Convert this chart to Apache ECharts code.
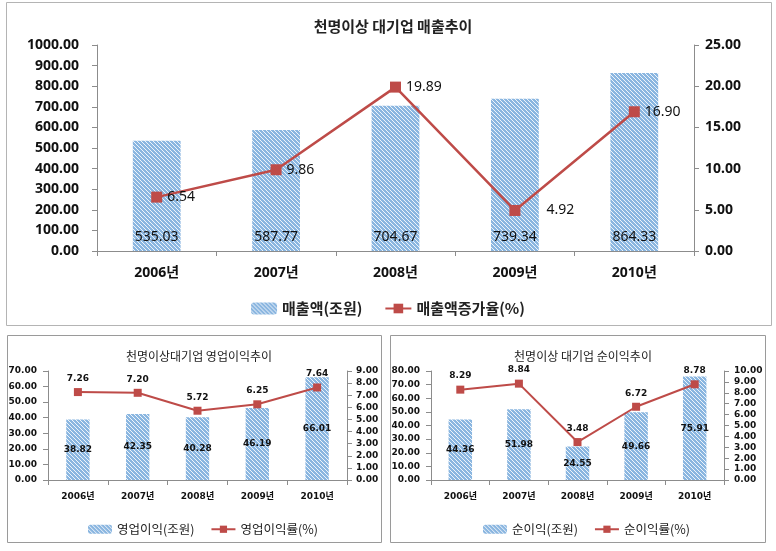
<!DOCTYPE html>
<html><head><meta charset="utf-8">
<script src="https://cdn.jsdelivr.net/npm/echarts@6/dist/echarts.min.js"></script>
<style>html,body{margin:0;padding:0;background:#fff}#c{width:776px;height:551px}</style>
</head><body><div id="c"></div>
<script>
// ---- data ----
const years = ['2006년', '2007년', '2008년', '2009년', '2010년'];

const salesTitle = '천명이상 대기업 매출추이';
const salesName = '매출액(조원)';
const growthName = '매출액증가율(%)';
const sales = [535.03, 587.77, 704.67, 739.34, 864.33];
const salesGrowth = [6.54, 9.86, 19.89, 4.92, 16.90];

const opTitle = '천명이상대기업 영업이익추이';
const opName = '영업이익(조원)';
const opRateName = '영업이익률(%)';
const opProfit = [38.82, 42.35, 40.28, 46.19, 66.01];
const opMargin = [7.26, 7.20, 5.72, 6.25, 7.64];

const netTitle = '천명이상 대기업 순이익추이';
const netName = '순이익(조원)';
const netRateName = '순이익률(%)';
const netProfit = [44.36, 51.98, 24.55, 49.66, 75.91];
const netMargin = [8.29, 8.84, 3.48, 6.72, 8.78];

// ---- styles ----
function hatch() {
  const c = document.createElement('canvas');
  c.width = 4; c.height = 4;
  const g = c.getContext('2d');
  g.fillStyle = '#8ab6e0'; g.fillRect(0, 0, 4, 4);
  g.strokeStyle = 'rgba(255,255,255,0.85)'; g.lineWidth = 1;
  g.beginPath(); g.moveTo(0, 0); g.lineTo(4, 4); g.stroke();
  g.beginPath(); g.moveTo(-2, 2); g.lineTo(2, 6); g.stroke();
  g.beginPath(); g.moveTo(2, -2); g.lineTo(6, 2); g.stroke();
  return c;
}
const barFill = { image: hatch(), repeat: 'repeat' };
const RED = '#be4b48';
const AX = '#8c8c8c';
const fmt = v => Number(v).toFixed(2);
const bigFont = 'Noto Sans, Noto Sans CJK KR, sans-serif';
const smallFont = 'DejaVu Sans, Noto Sans CJK KR, sans-serif';

function xAx(gi, font, size, margin) {
  return {
    type: 'category', gridIndex: gi, data: years,
    axisLine: { lineStyle: { color: AX } },
    axisTick: { show: true, length: 5, lineStyle: { color: AX } },
    axisLabel: { color: '#111', fontFamily: font, fontWeight: 'bold', fontSize: size, margin: margin }
  };
}
function yAx(gi, max, interval, font, size, margin, pos) {
  return {
    type: 'value', gridIndex: gi, min: 0, max: max, interval: interval, position: pos,
    splitLine: { show: false },
    axisLine: { show: true, lineStyle: { color: AX } },
    axisTick: { show: true, length: 5, lineStyle: { color: AX } },
    axisLabel: { color: '#111', fontFamily: font, fontWeight: 'bold', fontSize: size, margin: margin, formatter: fmt }
  };
}

const chart = echarts.init(document.getElementById('c'));
chart.setOption({
  animation: false,
  backgroundColor: '#fff',
  graphic: [
    { type: 'rect', shape: { x: 6.5, y: 2.5, width: 765, height: 323 }, style: { fill: 'none', stroke: '#b4b4b4', lineWidth: 1 }, silent: true },
    { type: 'rect', shape: { x: 7.5, y: 335.5, width: 374, height: 207 }, style: { fill: 'none', stroke: '#9a9a9a', lineWidth: 1 }, silent: true },
    { type: 'rect', shape: { x: 390.5, y: 335.5, width: 375, height: 207 }, style: { fill: 'none', stroke: '#9a9a9a', lineWidth: 1 }, silent: true }
  ],
  title: [
    { text: salesTitle, left: 388, top: 14, textAlign: 'center',
      textStyle: { fontFamily: 'Noto Sans CJK KR', fontSize: 15, fontWeight: 'bold', color: '#222' } },
    { text: opTitle, left: 194, top: 345, textAlign: 'center',
      textStyle: { fontFamily: 'Noto Sans CJK KR', fontSize: 12, fontWeight: 'normal', color: '#222' } },
    { text: netTitle, left: 578, top: 345, textAlign: 'center',
      textStyle: { fontFamily: 'Noto Sans CJK KR', fontSize: 12, fontWeight: 'normal', color: '#222' } }
  ],
  legend: [
    { data: [salesName, growthName], left: 'center', top: 296, itemWidth: 26, itemHeight: 12, itemGap: 22,
      textStyle: { fontFamily: 'Noto Sans CJK KR', fontSize: 15, fontWeight: 'bold', color: '#222' } },
    { data: [opName, opRateName], left: 83, top: 518, itemWidth: 24, itemHeight: 9, itemGap: 16,
      textStyle: { fontFamily: 'Noto Sans CJK KR', fontSize: 12.5, fontWeight: 'normal', color: '#222' } },
    { data: [netName, netRateName], left: 478, top: 518, itemWidth: 24, itemHeight: 9, itemGap: 16,
      textStyle: { fontFamily: 'Noto Sans CJK KR', fontSize: 12.5, fontWeight: 'normal', color: '#222' } }
  ],
  grid: [
    { left: 97, right: 82, top: 45, bottom: 300 },
    { left: 48, right: 429, top: 371, bottom: 71 },
    { left: 431, right: 52, top: 371, bottom: 71 }
  ],
  xAxis: [
    xAx(0, bigFont, 14, 15),
    xAx(1, smallFont, 9, 12),
    xAx(2, smallFont, 9, 12)
  ],
  yAxis: [
    yAx(0, 1000, 100, bigFont, 14, 18, 'left'),
    yAx(0, 25, 5, bigFont, 14, 11, 'right'),
    yAx(1, 70, 10, smallFont, 9, 11, 'left'),
    yAx(1, 9, 1, smallFont, 9, 9, 'right'),
    yAx(2, 80, 10, smallFont, 9, 11, 'left'),
    yAx(2, 10, 1, smallFont, 9, 10, 'right')
  ],
  series: [
    { name: salesName, type: 'bar', xAxisIndex: 0, yAxisIndex: 0, data: sales, barWidth: '40%',
      itemStyle: { color: barFill },
      label: { show: true, position: 'insideBottom', distance: 7, formatter: p => fmt(p.value),
        fontFamily: bigFont, fontSize: 14, color: '#111' } },
    { name: growthName, type: 'line', xAxisIndex: 0, yAxisIndex: 1,
      data: salesGrowth.map((v, i) => i === 3 ? { value: v, label: { distance: 26 } } : v),
      symbol: 'rect', symbolSize: 11, lineStyle: { color: RED, width: 2.5 }, itemStyle: { color: RED },
      label: { show: true, position: 'right', distance: 5, formatter: p => fmt(p.value),
        fontFamily: bigFont, fontSize: 14, color: '#111' } },
    { name: opName, type: 'bar', xAxisIndex: 1, yAxisIndex: 2, data: opProfit, barWidth: '39%',
      itemStyle: { color: barFill },
      label: { show: true, position: 'inside', formatter: p => fmt(p.value),
        fontFamily: smallFont, fontWeight: 'bold', fontSize: 9, color: '#111' } },
    { name: opRateName, type: 'line', xAxisIndex: 1, yAxisIndex: 3, data: opMargin,
      symbol: 'rect', symbolSize: 8, lineStyle: { color: RED, width: 2 }, itemStyle: { color: RED },
      label: { show: true, position: 'top', distance: 5, formatter: p => fmt(p.value),
        fontFamily: smallFont, fontWeight: 'bold', fontSize: 9, color: '#111' } },
    { name: netName, type: 'bar', xAxisIndex: 2, yAxisIndex: 4, data: netProfit, barWidth: '40%',
      itemStyle: { color: barFill },
      label: { show: true, position: 'inside', formatter: p => fmt(p.value),
        fontFamily: smallFont, fontWeight: 'bold', fontSize: 9, color: '#111' } },
    { name: netRateName, type: 'line', xAxisIndex: 2, yAxisIndex: 5, data: netMargin,
      symbol: 'rect', symbolSize: 8, lineStyle: { color: RED, width: 2 }, itemStyle: { color: RED },
      label: { show: true, position: 'top', distance: 5, formatter: p => fmt(p.value),
        fontFamily: smallFont, fontWeight: 'bold', fontSize: 9, color: '#111' } }
  ]
});
</script>
</body></html>
